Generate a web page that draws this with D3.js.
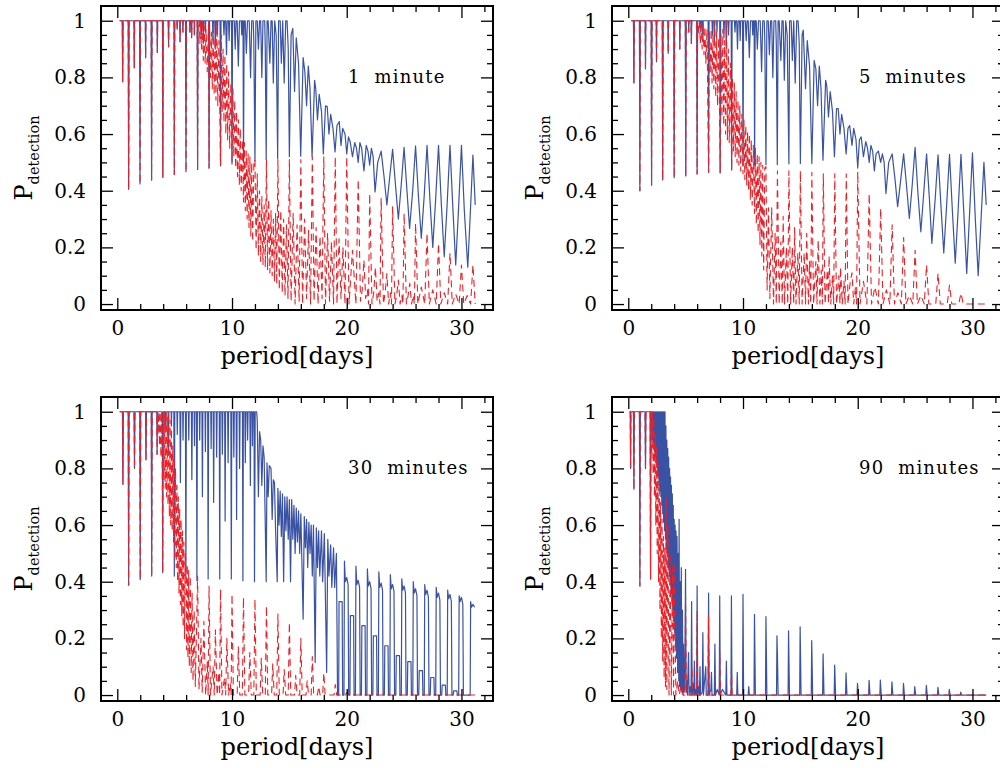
<!DOCTYPE html>
<html>
<head>
<meta charset="utf-8">
<script src="https://cdn.jsdelivr.net/npm/d3@7"></script>
<style>
  body { margin: 0; background: #fff; }
  svg { display: block; }
</style>
</head>
<body>
<svg id="chart" width="1000" height="768"></svg>
<script>
// ---- data: [period (days), P_detection] ----

// 1 minute: both curves coincide below ~7 days
const p1Early = [[0.2,1],[0.43,1],[0.47,0.785],[0.51,1],[0.95,1],[0.99,0.405],[1.03,1],[1.45,1],[1.48,0.834],[1.51,1],[1.94,1],[1.98,0.424],[2.02,1],[2.44,1],[2.47,0.869],[2.5,1],[2.95,1],[2.99,0.438],[3.03,1],[3.46,1],[3.49,0.888],[3.52,1],[3.94,1],[3.97,0.447],[4.01,1],[4.44,1],[4.47,0.908],[4.5,1],[4.94,1],[4.97,0.457],[5.01,1],[5.2,1],[5.22,0.97],[5.24,1],[5.44,1],[5.47,0.926],[5.5,1],[5.7,1],[5.72,0.96],[5.74,1],[5.95,1],[5.99,0.467],[6.03,1],[6.3,1],[6.33,0.96],[6.36,1],[6.45,1],[6.48,0.94],[6.51,1],[6.7,1],[6.72,0.95],[6.74,1]];
const p1Blue = p1Early.concat([[6.96,1],[7.0,0.475],[7.04,1],[7.3,1],[7.33,0.95],[7.36,1],[7.47,1],[7.5,0.92],[7.53,1],[7.65,1],[7.68,0.96],[7.71,1],[7.96,1],[8.0,0.48],[8.04,1],[8.3,1],[8.34,0.93],[8.38,1],[8.5,1],[8.54,0.9],[8.58,1],[8.68,1],[8.72,0.95],[8.76,1],[8.96,1],[9.0,0.488],[9.04,1],[9.25,1],[9.3,0.95],[9.35,1],[9.45,1],[9.52,0.88],[9.58,1],[9.7,1],[9.75,0.93],[9.8,1],[9.96,1],[10.0,0.494],[10.05,1],[10.2,1],[10.28,0.9],[10.35,1],[10.45,1],[10.55,0.84],[10.65,1],[10.8,1],[10.85,0.95],[10.9,1],[10.96,1],[11.0,0.5],[11.06,1],[11.15,1],[11.25,0.885],[11.35,1],[11.5,1],[11.62,0.8],[11.72,1],[11.85,1],[11.9,0.93],[12.0,0.505],[12.08,1],[12.2,1],[12.3,0.9],[12.4,1],[12.5,1],[12.6,0.8],[12.7,1],[12.85,1],[12.9,0.9],[12.98,0.51],[13.06,1],[13.15,1],[13.3,0.85],[13.4,1],[13.5,1],[13.6,0.78],[13.72,1],[13.85,0.95],[13.98,0.514],[14.06,1],[14.2,1],[14.3,0.85],[14.42,1],[14.55,0.78],[14.68,1],[14.8,1],[14.9,0.9],[15.0,0.52],[15.15,0.95],[15.3,0.973],[15.45,0.75],[15.6,0.94],[15.8,0.85],[15.99,0.522],[16.2,0.87],[16.35,0.82],[16.5,0.7],[16.65,0.84],[16.8,0.76],[16.98,0.52],[17.2,0.79],[17.3,0.76],[17.45,0.65],[17.6,0.74],[17.8,0.68],[17.96,0.53],[18.15,0.7],[18.3,0.697],[18.45,0.6],[18.6,0.67],[18.8,0.62],[18.98,0.537],[19.15,0.63],[19.35,0.644],[19.5,0.56],[19.65,0.62],[19.85,0.6],[20.0,0.53],[20.15,0.59],[20.3,0.573],[20.5,0.52],[20.7,0.57],[20.85,0.55],[21.0,0.5],[21.15,0.57],[21.3,0.55],[21.5,0.47],[21.7,0.56],[21.85,0.54],[22.0,0.49],[22.15,0.55],[22.3,0.52],[22.47,0.396],[22.7,0.5],[23.0,0.54],[23.25,0.45],[23.5,0.35],[23.75,0.45],[24.0,0.546],[24.25,0.42],[24.5,0.3],[24.75,0.42],[25.0,0.553],[25.25,0.4],[25.48,0.267],[25.75,0.4],[26.0,0.558],[26.25,0.38],[26.5,0.232],[26.75,0.38],[27.0,0.56],[27.25,0.37],[27.5,0.2],[27.75,0.37],[28.0,0.56],[28.25,0.35],[28.5,0.167],[28.75,0.35],[29.0,0.56],[29.25,0.34],[29.5,0.138],[29.75,0.34],[30.0,0.56],[30.25,0.33],[30.55,0.13],[30.75,0.3],[31.0,0.526],[31.2,0.35]]);
const p1Red = p1Early.concat([[6.96,1],[7.0,0.475],[7.04,1],[7.15,1],[7.2,0.92],[7.25,1],[7.35,0.9],[7.42,1],[7.5,0.86],[7.58,0.98],[7.66,0.85],[7.74,0.97],[7.84,0.82],[7.96,1],[8.0,0.48],[8.04,0.98],[8.12,0.8],[8.2,0.96],[8.28,0.76],[8.36,0.97],[8.44,0.74],[8.52,0.94],[8.6,0.72],[8.68,1],[8.76,0.7],[8.86,0.93],[9.0,0.49],[9.06,0.95],[9.14,0.68],[9.22,0.9],[9.3,0.64],[9.38,0.88],[9.46,0.6],[9.54,0.85],[9.62,0.58],[9.7,0.82],[9.8,0.55],[9.9,0.78],[10.0,0.5],[10.08,0.76],[10.16,0.52],[10.24,0.72],[10.32,0.48],[10.4,0.68],[10.48,0.45],[10.56,0.65],[10.64,0.42],[10.72,0.62],[10.8,0.4],[10.9,0.58],[11.0,0.36],[11.08,0.57],[11.16,0.33],[11.24,0.54],[11.32,0.3],[11.4,0.53],[11.48,0.27],[11.56,0.52],[11.64,0.24],[11.72,0.5],[11.8,0.22],[11.9,0.49],[12.0,0.51],[12.1,0.19],[12.2,0.46],[12.3,0.17],[12.4,0.4],[12.5,0.15],[12.6,0.38],[12.7,0.14],[12.8,0.35],[12.9,0.13],[13.0,0.51],[13.1,0.12],[13.2,0.37],[13.3,0.11],[13.4,0.33],[13.5,0.1],[13.6,0.3],[13.7,0.08],[13.8,0.32],[13.9,0.07],[14.0,0.51],[14.12,0.05],[14.25,0.33],[14.38,0.04],[14.5,0.3],[14.62,0.03],[14.75,0.28],[14.88,0.02],[15.0,0.51],[15.15,0.01],[15.33,0.32],[15.5,0.0],[15.67,0.28],[15.85,0.01],[16.0,0.51],[16.15,0.0],[16.33,0.3],[16.5,0.02],[16.67,0.26],[16.85,0.0],[17.0,0.52],[17.15,0.01],[17.33,0.27],[17.5,0.0],[17.67,0.24],[17.85,0.02],[18.0,0.52],[18.15,0.0],[18.33,0.25],[18.5,0.01],[18.67,0.22],[18.85,0.0],[19.0,0.52],[19.15,0.0],[19.33,0.23],[19.5,0.02],[19.67,0.2],[19.85,0.0],[20.0,0.52],[20.2,0.0],[20.5,0.19],[20.8,0.0],[21.0,0.44],[21.2,0.01],[21.35,0.05],[21.5,0.155],[21.65,0.02],[21.8,0.05],[21.9,0.0],[22.0,0.39],[22.2,0.0],[22.35,0.04],[22.5,0.13],[22.65,0.01],[22.8,0.04],[22.9,0.0],[23.0,0.373],[23.2,0.0],[23.35,0.04],[23.5,0.108],[23.65,0.0],[23.8,0.04],[23.9,0.0],[24.0,0.343],[24.2,0.0],[24.35,0.03],[24.5,0.085],[24.65,0.0],[24.8,0.03],[24.9,0.0],[25.0,0.32],[25.2,0.0],[25.35,0.03],[25.5,0.073],[25.65,0.0],[25.8,0.03],[25.9,0.0],[26.0,0.285],[26.2,0.0],[26.5,0.06],[26.8,0.0],[27.0,0.25],[27.2,0.0],[27.5,0.05],[27.8,0.0],[28.0,0.214],[28.2,0.0],[28.5,0.04],[28.8,0.0],[29.0,0.18],[29.2,0.0],[29.5,0.035],[29.8,0.0],[30.0,0.138],[30.2,0.0],[30.5,0.03],[30.8,0.0],[31.0,0.138],[31.2,0.0]]);

// 5 minutes
const p2Early = [[0.25,1],[0.45,1],[0.49,0.78],[0.53,1],[0.97,1],[1.01,0.4],[1.05,1],[1.47,1],[1.5,0.83],[1.53,1],[1.99,1],[2.03,0.42],[2.07,1],[2.43,1],[2.46,0.855],[2.49,1],[2.96,1],[3.0,0.438],[3.04,1],[3.45,1],[3.48,0.885],[3.51,1],[3.96,1],[4.0,0.446],[4.04,1],[4.46,1],[4.49,0.9],[4.52,1],[4.97,1],[5.01,0.452],[5.05,1],[5.25,1],[5.27,0.96],[5.29,1],[5.47,1],[5.5,0.92],[5.53,1]];
const p2Blue = p2Early.concat([[5.96,1],[6.0,0.459],[6.04,1],[6.3,1],[6.33,0.96],[6.36,1],[6.47,1],[6.5,0.93],[6.53,1],[6.96,1],[7.0,0.465],[7.04,1],[7.3,1],[7.33,0.95],[7.36,1],[7.47,1],[7.5,0.92],[7.53,1],[7.7,1],[7.73,0.96],[7.76,1],[7.97,1],[8.01,0.463],[8.05,1],[8.3,1],[8.34,0.94],[8.38,1],[8.5,1],[8.54,0.9],[8.58,1],[8.7,1],[8.74,0.95],[8.78,1],[8.97,1],[9.01,0.473],[9.05,1],[9.25,1],[9.3,0.96],[9.35,1],[9.45,1],[9.52,0.9],[9.58,1],[9.7,1],[9.75,0.93],[9.8,1],[9.96,1],[10.0,0.487],[10.05,1],[10.2,1],[10.28,0.93],[10.35,1],[10.45,1],[10.55,0.87],[10.65,1],[10.8,1],[10.85,0.95],[10.9,1],[10.97,1],[11.01,0.49],[11.06,1],[11.15,1],[11.25,0.9],[11.35,1],[11.5,1],[11.62,0.82],[11.72,1],[11.85,1],[11.9,0.93],[12.0,0.492],[12.08,1],[12.2,1],[12.3,0.88],[12.4,1],[12.5,1],[12.6,0.8],[12.7,1],[12.85,1],[12.9,0.92],[12.99,0.492],[13.06,1],[13.15,1],[13.3,0.86],[13.4,1],[13.5,1],[13.6,0.79],[13.72,1],[13.85,0.95],[14.0,0.495],[14.06,1],[14.2,1],[14.3,0.86],[14.42,1],[14.55,0.78],[14.68,1],[14.8,1],[14.9,0.92],[15.0,0.496],[15.15,0.95],[15.25,0.967],[15.45,0.76],[15.6,0.93],[15.8,0.84],[16.0,0.496],[16.2,0.86],[16.35,0.83],[16.5,0.7],[16.65,0.84],[16.8,0.76],[16.97,0.508],[17.2,0.79],[17.3,0.77],[17.45,0.66],[17.6,0.75],[17.8,0.68],[17.97,0.52],[18.15,0.69],[18.3,0.69],[18.45,0.6],[18.6,0.67],[18.8,0.62],[18.99,0.53],[19.15,0.62],[19.3,0.63],[19.5,0.56],[19.65,0.62],[19.85,0.58],[20.0,0.48],[20.15,0.58],[20.3,0.59],[20.5,0.52],[20.7,0.573],[20.85,0.55],[21.0,0.5],[21.15,0.56],[21.3,0.54],[21.45,0.47],[21.6,0.53],[21.8,0.54],[22.0,0.5],[22.15,0.53],[22.3,0.5],[22.46,0.39],[22.7,0.5],[23.0,0.53],[23.25,0.44],[23.48,0.344],[23.75,0.44],[24.0,0.53],[24.25,0.42],[24.5,0.302],[24.75,0.42],[25.0,0.553],[25.25,0.39],[25.5,0.255],[25.75,0.39],[26.0,0.53],[26.25,0.37],[26.46,0.214],[26.75,0.37],[27.0,0.527],[27.25,0.35],[27.5,0.18],[27.75,0.35],[28.0,0.528],[28.25,0.33],[28.5,0.144],[28.75,0.33],[29.0,0.528],[29.25,0.32],[29.5,0.108],[29.75,0.32],[30.0,0.534],[30.25,0.3],[30.5,0.1],[30.75,0.3],[31.0,0.5],[31.2,0.35]]);
const p2Red = p2Early.concat([[5.96,1],[6.0,0.459],[6.04,1],[6.12,0.95],[6.2,1],[6.28,0.92],[6.36,1],[6.44,0.9],[6.52,0.99],[6.6,0.88],[6.68,0.98],[6.76,0.85],[6.86,0.97],[7.0,0.465],[7.06,0.96],[7.14,0.82],[7.22,0.97],[7.3,0.78],[7.38,0.95],[7.46,0.76],[7.54,1],[7.62,0.73],[7.7,0.96],[7.78,0.7],[7.88,0.94],[8.01,0.463],[8.08,0.95],[8.16,0.66],[8.24,0.97],[8.32,0.63],[8.4,0.93],[8.48,0.6],[8.56,1],[8.64,0.58],[8.72,0.9],[8.8,0.57],[8.9,0.85],[9.01,0.473],[9.08,0.8],[9.16,0.54],[9.24,0.78],[9.32,0.52],[9.4,0.75],[9.48,0.5],[9.56,0.72],[9.64,0.49],[9.72,0.7],[9.8,0.47],[9.9,0.67],[10.0,0.46],[10.08,0.65],[10.16,0.44],[10.24,0.63],[10.32,0.42],[10.4,0.61],[10.48,0.4],[10.56,0.6],[10.64,0.37],[10.72,0.58],[10.8,0.35],[10.9,0.56],[11.0,0.32],[11.08,0.55],[11.16,0.28],[11.24,0.53],[11.32,0.25],[11.4,0.52],[11.48,0.21],[11.56,0.5],[11.64,0.17],[11.72,0.49],[11.8,0.12],[11.9,0.48],[12.0,0.485],[12.1,0.05],[12.22,0.34],[12.34,0.02],[12.5,0.34],[12.66,0.0],[12.8,0.25],[12.9,0.0],[13.0,0.47],[13.15,0.0],[13.3,0.22],[13.42,0.0],[13.5,0.31],[13.62,0.0],[13.78,0.2],[13.9,0.0],[14.0,0.47],[14.15,0.0],[14.3,0.2],[14.42,0.0],[14.5,0.27],[14.62,0.0],[14.78,0.18],[14.9,0.0],[15.0,0.47],[15.15,0.0],[15.33,0.18],[15.45,0.0],[15.55,0.25],[15.7,0.0],[15.8,0.15],[15.9,0.0],[16.0,0.465],[16.15,0.0],[16.35,0.15],[16.45,0.0],[16.55,0.226],[16.7,0.0],[16.82,0.12],[16.92,0.0],[17.0,0.46],[17.15,0.0],[17.35,0.12],[17.45,0.0],[17.5,0.17],[17.65,0.0],[17.8,0.1],[17.9,0.0],[18.0,0.46],[18.15,0.0],[18.35,0.1],[18.45,0.0],[18.5,0.13],[18.65,0.0],[18.8,0.08],[18.9,0.0],[19.0,0.46],[19.15,0.0],[19.35,0.08],[19.5,0.11],[19.65,0.0],[19.8,0.06],[19.9,0.0],[20.0,0.467],[20.2,0.0],[20.5,0.08],[20.8,0.0],[21.0,0.39],[21.2,0.0],[21.5,0.06],[21.8,0.0],[22.0,0.338],[22.2,0.0],[22.5,0.05],[22.8,0.0],[23.0,0.28],[23.2,0.0],[23.5,0.04],[23.8,0.0],[24.0,0.235],[24.2,0.0],[24.5,0.03],[24.8,0.0],[25.0,0.19],[25.2,0.0],[25.5,0.03],[25.8,0.0],[26.0,0.138],[26.2,0.0],[26.8,0.0],[27.0,0.108],[27.2,0.0],[27.8,0.0],[28.0,0.067],[28.2,0.0],[28.8,0.0],[29.0,0.038],[29.2,0.0],[31.2,0.0]]);

// 30 minutes
const p3Early = [[0.2,1],[0.45,1],[0.49,0.744],[0.53,1],[0.95,1],[0.99,0.388],[1.03,1],[1.46,1],[1.5,0.8],[1.54,1],[1.96,1],[2.0,0.407],[2.04,1],[2.46,1],[2.5,0.83],[2.54,1],[2.96,1],[3.0,0.42],[3.04,1],[3.44,1],[3.47,0.85],[3.5,1]];
const p3Blue = p3Early.concat([[3.92,1],[3.96,0.432],[4.0,1],[4.2,1],[4.23,0.93],[4.26,1],[4.42,1],[4.45,0.87],[4.48,1],[4.7,1],[4.72,0.95],[4.74,1],[4.93,1],[4.97,0.42],[5.01,1],[5.2,1],[5.23,0.92],[5.26,1],[5.46,1],[5.5,0.75],[5.54,1],[5.7,1],[5.73,0.9],[5.76,1],[5.94,1],[5.98,0.41],[6.02,1],[6.2,1],[6.23,0.9],[6.26,1],[6.46,1],[6.5,0.76],[6.54,1],[6.7,1],[6.73,0.88],[6.76,1],[6.9,1],[6.94,0.403],[6.98,1],[7.15,1],[7.18,0.9],[7.21,1],[7.38,1],[7.42,0.7],[7.46,1],[7.65,1],[7.68,0.86],[7.71,1],[7.88,1],[7.92,0.41],[7.96,1],[8.15,1],[8.18,0.87],[8.21,1],[8.36,1],[8.4,0.68],[8.44,1],[8.62,1],[8.66,0.84],[8.7,1],[8.89,1],[8.93,0.41],[8.97,1],[9.12,1],[9.16,0.85],[9.2,1],[9.36,1],[9.4,0.614],[9.44,1],[9.62,1],[9.66,0.82],[9.7,1],[9.9,1],[9.94,0.41],[9.98,1],[10.12,1],[10.16,0.84],[10.2,1],[10.36,1],[10.4,0.62],[10.44,1],[10.62,1],[10.66,0.8],[10.7,1],[10.91,1],[10.95,0.403],[10.99,1],[11.12,1],[11.16,0.82],[11.2,1],[11.32,1],[11.36,0.9],[11.4,1],[11.56,1],[11.6,0.74],[11.64,1],[11.75,1],[11.78,0.88],[11.82,1],[11.92,1],[11.96,0.4],[12.02,1],[12.15,1],[12.2,0.97],[12.3,0.7],[12.4,0.93],[12.5,0.9],[12.6,0.74],[12.7,0.88],[12.8,0.84],[12.9,0.6],[12.98,0.4],[13.05,0.82],[13.15,0.7],[13.25,0.81],[13.4,0.8],[13.5,0.62],[13.6,0.76],[13.7,0.75],[13.8,0.58],[13.94,0.4],[14.0,0.73],[14.1,0.6],[14.2,0.72],[14.3,0.56],[14.4,0.71],[14.5,0.4],[14.6,0.7],[14.7,0.58],[14.8,0.7],[14.9,0.55],[15.0,0.69],[15.1,0.4],[15.2,0.69],[15.3,0.55],[15.4,0.67],[15.5,0.5],[15.6,0.66],[15.7,0.54],[15.8,0.65],[15.9,0.5],[16.0,0.64],[16.2,0.268],[16.3,0.63],[16.4,0.52],[16.5,0.62],[16.6,0.45],[16.7,0.61],[16.8,0.5],[16.9,0.6],[17.0,0.42],[17.1,0.6],[17.25,0.115],[17.35,0.59],[17.45,0.45],[17.55,0.58],[17.65,0.42],[17.8,0.58],[17.9,0.4],[18.05,0.57],[18.25,0.08],[18.35,0.55],[18.45,0.42],[18.6,0.53],[18.7,0.38],[18.85,0.52],[18.95,0.38],[19.1,0.5],[19.2,0.0],[19.3,0.0],[19.33,0.33],[19.6,0.33],[19.64,0.0],[19.76,0.0],[19.8,0.473],[19.88,0.4],[20.0,0.415],[20.12,0.39],[20.17,0.0],[20.28,0.0],[20.32,0.28],[20.6,0.28],[20.64,0.0],[20.76,0.0],[20.8,0.455],[20.88,0.39],[21.0,0.405],[21.12,0.38],[21.17,0.0],[21.28,0.0],[21.32,0.245],[21.6,0.245],[21.64,0.0],[21.76,0.0],[21.8,0.445],[21.88,0.385],[22.0,0.4],[22.12,0.375],[22.17,0.0],[22.28,0.0],[22.32,0.209],[22.6,0.209],[22.64,0.0],[22.76,0.0],[22.8,0.435],[22.88,0.38],[23.0,0.395],[23.12,0.37],[23.17,0.0],[23.28,0.0],[23.32,0.174],[23.6,0.174],[23.64,0.0],[23.76,0.0],[23.8,0.425],[23.88,0.375],[24.0,0.39],[24.12,0.365],[24.17,0.0],[24.28,0.0],[24.32,0.139],[24.6,0.139],[24.64,0.0],[24.76,0.0],[24.8,0.41],[24.88,0.37],[25.0,0.385],[25.12,0.36],[25.17,0.0],[25.28,0.0],[25.32,0.118],[25.6,0.118],[25.64,0.0],[25.76,0.0],[25.8,0.4],[25.88,0.36],[26.0,0.375],[26.12,0.35],[26.17,0.0],[26.28,0.0],[26.32,0.086],[26.6,0.086],[26.64,0.0],[26.76,0.0],[26.8,0.39],[26.88,0.355],[27.0,0.37],[27.12,0.345],[27.17,0.0],[27.28,0.0],[27.32,0.062],[27.6,0.062],[27.64,0.0],[27.76,0.0],[27.8,0.38],[27.88,0.345],[28.0,0.36],[28.12,0.335],[28.17,0.0],[28.28,0.0],[28.32,0.035],[28.6,0.035],[28.64,0.0],[28.76,0.0],[28.8,0.37],[28.88,0.34],[29.0,0.355],[29.12,0.33],[29.17,0.0],[29.28,0.0],[29.32,0.015],[29.6,0.015],[29.64,0.0],[29.76,0.0],[29.8,0.35],[29.88,0.33],[30.0,0.345],[30.12,0.32],[30.17,0.0],[30.76,0.0],[30.8,0.33],[30.88,0.31],[31.0,0.32],[31.15,0.31]]);
const p3Red = p3Early.concat([[3.56,0.92],[3.62,1],[3.68,0.88],[3.74,1],[3.8,0.84],[3.86,1],[3.92,0.8],[3.96,0.432],[4.0,1],[4.06,0.76],[4.12,1],[4.18,0.73],[4.24,1],[4.3,0.7],[4.36,0.98],[4.42,0.67],[4.48,1],[4.54,0.63],[4.6,0.97],[4.66,0.6],[4.72,0.94],[4.78,0.58],[4.84,0.88],[4.9,0.54],[4.96,0.84],[5.02,0.48],[5.08,0.8],[5.14,0.45],[5.2,0.74],[5.26,0.4],[5.32,0.7],[5.38,0.36],[5.44,0.66],[5.5,0.32],[5.56,0.62],[5.62,0.28],[5.68,0.58],[5.74,0.24],[5.8,0.54],[5.86,0.2],[5.92,0.5],[5.98,0.47],[6.04,0.16],[6.1,0.46],[6.16,0.13],[6.22,0.44],[6.28,0.1],[6.36,0.42],[6.44,0.08],[6.52,0.36],[6.6,0.05],[6.7,0.3],[6.8,0.03],[6.9,0.22],[7.0,0.42],[7.12,0.02],[7.3,0.2],[7.4,0.01],[7.55,0.26],[7.7,0.0],[7.85,0.12],[7.92,0.0],[8.0,0.385],[8.12,0.0],[8.35,0.1],[8.45,0.0],[8.55,0.23],[8.7,0.0],[8.85,0.08],[8.92,0.0],[9.0,0.373],[9.12,0.0],[9.35,0.06],[9.45,0.0],[9.55,0.2],[9.7,0.0],[9.85,0.04],[9.92,0.0],[10.0,0.356],[10.12,0.0],[10.45,0.0],[10.55,0.17],[10.68,0.0],[10.9,0.0],[11.0,0.344],[11.12,0.0],[11.45,0.0],[11.55,0.15],[11.68,0.0],[11.9,0.0],[12.0,0.338],[12.12,0.0],[12.45,0.0],[12.55,0.13],[12.68,0.0],[12.9,0.0],[13.0,0.315],[13.12,0.0],[13.45,0.0],[13.55,0.11],[13.68,0.0],[13.9,0.0],[14.0,0.286],[14.12,0.0],[14.45,0.0],[14.55,0.09],[14.68,0.0],[14.9,0.0],[15.0,0.256],[15.12,0.0],[15.45,0.0],[15.55,0.07],[15.68,0.0],[15.9,0.0],[16.0,0.2],[16.12,0.0],[16.45,0.0],[16.55,0.05],[16.68,0.0],[16.9,0.0],[17.0,0.136],[17.12,0.0],[17.45,0.0],[17.55,0.03],[17.68,0.0],[17.9,0.0],[18.0,0.078],[18.12,0.0],[18.9,0.0],[19.0,0.037],[19.12,0.0],[19.9,0.0],[20.0,0.01],[20.12,0.0],[31.2,0.0]]);

// 90 minutes
const p4Early = [[0.1,1],[0.17,1],[0.2,0.8],[0.23,1],[0.45,1],[0.49,0.726],[0.53,1],[0.97,1],[1.01,0.385],[1.05,1],[1.46,1],[1.5,0.8],[1.54,1],[1.9,1],[1.94,0.41],[1.98,1]];
const p4Blue = p4Early.concat([[2.04,0.93],[2.08,1],[2.12,0.9],[2.16,1],[2.2,0.88],[2.24,1],[2.28,0.86],[2.32,1],[2.36,0.84],[2.4,1],[2.44,0.82],[2.48,1],[2.52,0.8],[2.56,1],[2.6,0.77],[2.64,1],[2.68,0.74],[2.72,1],[2.76,0.72],[2.8,1],[2.84,0.7],[2.88,1],[2.92,0.67],[2.96,1],[3.0,0.64],[3.04,1],[3.08,0.61],[3.12,1],[3.16,0.58],[3.2,1],[3.24,0.55],[3.28,0.95],[3.32,0.52],[3.36,0.9],[3.4,0.49],[3.44,0.87],[3.48,0.45],[3.52,0.84],[3.56,0.42],[3.6,0.8],[3.64,0.39],[3.68,0.77],[3.72,0.36],[3.76,0.74],[3.8,0.33],[3.84,0.71],[3.88,0.3],[3.92,0.67],[3.96,0.26],[4.0,0.62],[4.04,0.22],[4.08,0.6],[4.12,0.17],[4.16,0.58],[4.2,0.13],[4.25,0.56],[4.3,0.08],[4.35,0.5],[4.4,0.05],[4.43,0.62],[4.47,0.03],[4.52,0.4],[4.57,0.02],[4.62,0.45],[4.67,0.01],[4.72,0.3],[4.77,0.0],[4.82,0.18],[4.88,0.01],[4.94,0.1],[4.99,0.444],[5.04,0.01],[5.1,0.05],[5.15,0.0],[5.25,0.15],[5.3,0.0],[5.4,0.03],[5.47,0.0],[5.52,0.33],[5.57,0.0],[5.65,0.04],[5.72,0.0],[5.76,0.12],[5.82,0.0],[5.9,0.02],[5.96,0.0],[6.0,0.385],[6.05,0.0],[6.15,0.03],[6.2,0.0],[6.25,0.1],[6.3,0.0],[6.45,0.01],[6.5,0.22],[6.55,0.0],[6.75,0.1],[6.8,0.0],[6.95,0.0],[7.0,0.36],[7.05,0.0],[7.2,0.02],[7.25,0.08],[7.3,0.0],[7.5,0.0],[7.55,0.18],[7.6,0.0],[7.75,0.02],[7.93,0.0],[7.97,0.35],[8.02,0.0],[8.2,0.02],[8.5,0.0],[8.55,0.12],[8.6,0.0],[8.95,0.0],[8.99,0.35],[9.04,0.0],[9.45,0.0],[9.5,0.08],[9.55,0.0],[9.96,0.0],[10.0,0.355],[10.05,0.0],[10.45,0.0],[10.5,0.03],[10.55,0.0],[10.96,0.0],[11.0,0.285],[11.08,0.0],[11.96,0.0],[12.0,0.277],[12.08,0.0],[12.92,0.0],[12.96,0.209],[13.0,0.14],[13.06,0.0],[13.93,0.0],[13.97,0.227],[14.05,0.0],[14.94,0.0],[14.98,0.241],[15.06,0.0],[15.95,0.0],[15.99,0.192],[16.07,0.0],[16.94,0.0],[16.98,0.145],[17.06,0.0],[17.95,0.0],[17.99,0.106],[18.07,0.0],[18.94,0.0],[18.98,0.078],[19.06,0.0],[19.94,0.0],[19.98,0.041],[20.06,0.0],[20.95,0.0],[20.99,0.052],[21.07,0.0],[21.93,0.0],[21.97,0.053],[22.05,0.0],[22.94,0.0],[22.98,0.047],[23.06,0.0],[23.95,0.0],[23.99,0.041],[24.07,0.0],[24.93,0.0],[24.97,0.03],[25.05,0.0],[25.94,0.0],[25.98,0.034],[26.06,0.0],[26.95,0.0],[26.99,0.027],[27.07,0.0],[27.94,0.0],[27.98,0.02],[28.06,0.0],[28.94,0.0],[28.98,0.01],[29.06,0.0],[31.2,0.0]]);
const p4Red = p4Early.concat([[2.04,0.85],[2.1,1],[2.16,0.78],[2.22,0.98],[2.28,0.7],[2.34,0.92],[2.4,0.6],[2.46,0.88],[2.52,0.5],[2.58,0.82],[2.64,0.4],[2.7,0.76],[2.76,0.3],[2.82,0.68],[2.88,0.2],[2.94,0.62],[3.0,0.12],[3.06,0.56],[3.12,0.06],[3.18,0.52],[3.24,0.03],[3.3,0.7],[3.36,0.02],[3.45,0.6],[3.55,0.0],[3.65,0.5],[3.75,0.0],[3.85,0.45],[3.95,0.0],[4.0,0.47],[4.15,0.0],[4.3,0.05],[4.45,0.0],[4.6,0.03],[4.8,0.0],[4.94,0.0],[4.99,0.35],[5.06,0.0],[5.5,0.0],[5.55,0.1],[5.6,0.0],[5.95,0.0],[6.0,0.3],[6.06,0.0],[6.95,0.0],[6.99,0.28],[7.06,0.0],[7.93,0.0],[7.97,0.15],[8.04,0.0],[8.94,0.0],[8.99,0.09],[9.05,0.0],[31.2,0.0]]);

const panelLabels = ["1  minute", "5  minutes", "30  minutes", "90  minutes"];
const xMajor = [0, 10, 20, 30];
const xMinor = [2, 4, 6, 8, 12, 14, 16, 18, 22, 24, 26, 28, 32];
const yMajor = [0, 0.2, 0.4, 0.6, 0.8, 1];
const yTickLabels = ["0", "0.2", "0.4", "0.6", "0.8", "1"];
const yMinor = [0.05, 0.1, 0.15, 0.25, 0.3, 0.35, 0.45, 0.5, 0.55, 0.65, 0.7, 0.75, 0.85, 0.9, 0.95];

const panels = [
  { label: panelLabels[0], blue: p1Blue, red: p1Red, left: 101, top: 6 },
  { label: panelLabels[1], blue: p2Blue, red: p2Red, left: 612, top: 6 },
  { label: panelLabels[2], blue: p3Blue, red: p3Red, left: 101, top: 397 },
  { label: panelLabels[3], blue: p4Blue, red: p4Red, left: 612, top: 397 }
];

const W = 392, H = 304;
const BLUE = "#3a52a3", RED = "#ec2027";
const FONT = "DejaVu Serif";

const svg = d3.select("#chart");

const x = d3.scaleLinear().domain([-1.42, 32.75]).range([0, W]);
const y = d3.scaleLinear().domain([-0.021, 1.052]).range([H, 0]);

const line = d3.line().x((d) => x(d[0])).y((d) => y(d[1]));

svg.append("defs").append("clipPath").attr("id", "plotclip")
  .append("rect").attr("x", 0).attr("y", 0).attr("width", W).attr("height", H);

function styleAxis(g, labels) {
  g.select(".domain").remove();
  g.selectAll(".tick line").attr("stroke", "#000").attr("stroke-width", 1.3);
  g.selectAll(".tick text")
    .attr("fill", "#000")
    .attr("font-family", FONT)
    .attr("font-size", labels ? 20 : 0);
}

panels.forEach((p) => {
  const g = svg.append("g").attr("transform", `translate(${p.left},${p.top})`);

  // curves: blue solid underneath, red dashed on top
  const plot = g.append("g").attr("clip-path", "url(#plotclip)");
  plot.append("path")
    .datum(p.blue)
    .attr("d", line)
    .attr("fill", "none")
    .attr("stroke", BLUE)
    .attr("stroke-width", 1.2)
    .attr("stroke-linejoin", "round");
  plot.append("path")
    .datum(p.red)
    .attr("d", line)
    .attr("fill", "none")
    .attr("stroke", RED)
    .attr("stroke-width", 1.1)
    .attr("stroke-dasharray", "7,4.5")
    .attr("stroke-linejoin", "round");

  // x axes (bottom with labels, top without)
  g.append("g").attr("transform", `translate(0,${H})`)
    .call(d3.axisBottom(x).tickValues(xMajor).tickSizeInner(-12).tickSizeOuter(0).tickPadding(11).tickFormat(d3.format("d")))
    .call((a) => styleAxis(a, true));
  g.append("g").attr("transform", `translate(0,${H})`)
    .call(d3.axisBottom(x).tickValues(xMinor).tickSizeInner(-6).tickSizeOuter(0).tickFormat(""))
    .call((a) => styleAxis(a, false));
  g.append("g")
    .call(d3.axisTop(x).tickValues(xMajor).tickSizeInner(-12).tickSizeOuter(0).tickFormat(""))
    .call((a) => styleAxis(a, false));
  g.append("g")
    .call(d3.axisTop(x).tickValues(xMinor).tickSizeInner(-6).tickSizeOuter(0).tickFormat(""))
    .call((a) => styleAxis(a, false));

  // y axes (left with labels, right without)
  g.append("g")
    .call(d3.axisLeft(y).tickValues(yMajor).tickSizeInner(-12).tickSizeOuter(0).tickPadding(15)
      .tickFormat((d, i) => yTickLabels[i]))
    .call((a) => styleAxis(a, true));
  g.append("g")
    .call(d3.axisLeft(y).tickValues(yMinor).tickSizeInner(-6).tickSizeOuter(0).tickFormat(""))
    .call((a) => styleAxis(a, false));
  g.append("g").attr("transform", `translate(${W},0)`)
    .call(d3.axisRight(y).tickValues(yMajor).tickSizeInner(-12).tickSizeOuter(0).tickFormat(""))
    .call((a) => styleAxis(a, false));
  g.append("g").attr("transform", `translate(${W},0)`)
    .call(d3.axisRight(y).tickValues(yMinor).tickSizeInner(-6).tickSizeOuter(0).tickFormat(""))
    .call((a) => styleAxis(a, false));

  // frame
  g.append("rect")
    .attr("width", W)
    .attr("height", H)
    .attr("fill", "none")
    .attr("stroke", "#000")
    .attr("stroke-width", 2);

  // cadence label
  g.append("text")
    .attr("x", 247)
    .attr("y", 77)
    .attr("font-family", FONT)
    .attr("font-size", 18)
    .attr("letter-spacing", 1.2)
    .style("white-space", "pre")
    .attr("fill", "#000")
    .text(p.label);

  // x label
  g.append("text")
    .attr("x", W / 2)
    .attr("y", H + 54)
    .attr("text-anchor", "middle")
    .attr("font-family", FONT)
    .attr("font-size", 24)
    .attr("fill", "#000")
    .text("period[days]");

  // y label
  const yl = g.append("text")
    .attr("transform", `translate(-69,${152}) rotate(-90)`)
    .attr("text-anchor", "middle")
    .attr("font-family", FONT)
    .attr("fill", "#000");
  yl.append("tspan").attr("font-size", 24).text("P");
  yl.append("tspan").attr("font-size", 14.5).attr("dy", 7).text("detection");
});
</script>
</body>
</html>
